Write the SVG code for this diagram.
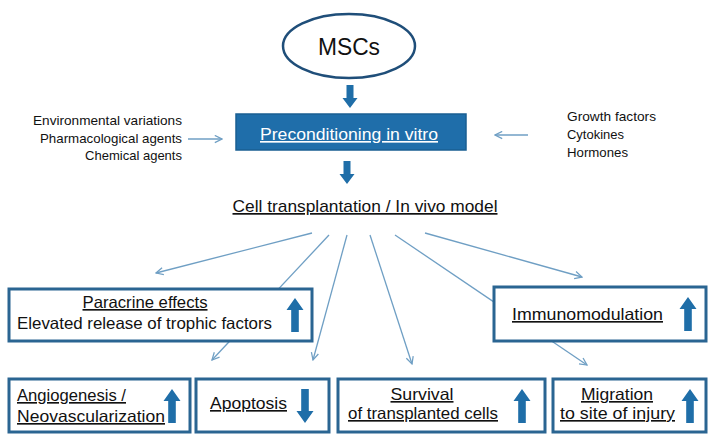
<svg xmlns="http://www.w3.org/2000/svg" width="719" height="444" viewBox="0 0 719 444">
<defs>
<style>
text{font-family:"Liberation Sans",Arial,sans-serif;fill:#111}
.u{text-decoration:underline}
.box{fill:#fff;stroke:#2a6592;stroke-width:3}
.ln{stroke:#6f9fc4;stroke-width:1.3;fill:none;marker-end:url(#ah)}
.blk{fill:#1f6ea8}
.s13{font-size:13.5px}
.s15{font-size:16.5px}
</style>
<marker id="ah" viewBox="0 0 10 10" refX="9" refY="5" markerWidth="9" markerHeight="9" markerUnits="userSpaceOnUse" orient="auto">
<polyline points="1,1 9,5 1,9" fill="none" stroke="#6f9fc4" stroke-width="1.4"/>
</marker>
<path id="up" d="M0,0 L8.5,12 L3.8,12 L3.8,34 L-3.8,34 L-3.8,12 L-8.5,12 Z"/>
<path id="dn" d="M-3.5,0 L3.5,0 L3.5,13 L7.5,13 L0,23 L-7.5,13 L-3.5,13 Z"/>
</defs>
<rect width="719" height="444" fill="#fff"/>

<g id="connectors">
<line class="ln" x1="188" y1="139" x2="222" y2="139"/>
<line class="ln" x1="528" y1="135" x2="495" y2="135"/>
<line class="ln" x1="312" y1="233" x2="156" y2="273"/>
<line class="ln" x1="329" y1="235" x2="212" y2="360"/>
<line class="ln" x1="347" y1="235" x2="313" y2="360"/>
<line class="ln" x1="370" y1="235" x2="412" y2="364"/>
<line class="ln" x1="395" y1="235" x2="587" y2="365"/>
<line class="ln" x1="425" y1="233" x2="582" y2="277"/>
<use href="#dn" class="blk" x="350" y="85"/>
<use href="#dn" class="blk" x="347" y="161"/>
</g>

<g id="msc">
<ellipse cx="349" cy="46" rx="66" ry="32" fill="#fff" stroke="#1f4e79" stroke-width="2.5"/>
<text x="349" y="55" font-size="24" text-anchor="middle" textLength="62" lengthAdjust="spacingAndGlyphs">MSCs</text>
</g>

<g id="precond">
<rect x="236" y="114" width="230" height="36" fill="#1f6eaa" stroke="#1a5f92" stroke-width="1.5"/>
<text x="349" y="140" class="s15 u" text-anchor="middle" style="fill:#fff" textLength="178" lengthAdjust="spacingAndGlyphs">Preconditioning in vitro</text>
</g>

<g id="left-factors" class="s13">
<text x="182" y="125" text-anchor="end" textLength="149" lengthAdjust="spacingAndGlyphs">Environmental variations</text>
<text x="182" y="143" text-anchor="end" textLength="142" lengthAdjust="spacingAndGlyphs">Pharmacological agents</text>
<text x="182" y="160" text-anchor="end" textLength="97" lengthAdjust="spacingAndGlyphs">Chemical agents</text>
</g>

<g id="right-factors" class="s13">
<text x="567" y="121" textLength="89" lengthAdjust="spacingAndGlyphs">Growth factors</text>
<text x="567" y="139" textLength="57" lengthAdjust="spacingAndGlyphs">Cytokines</text>
<text x="567" y="157" textLength="61" lengthAdjust="spacingAndGlyphs">Hormones</text>
</g>

<g id="transplant">
<text x="365" y="212" class="u" font-size="17" text-anchor="middle" textLength="265" lengthAdjust="spacingAndGlyphs">Cell transplantation / In vivo model</text>
</g>

<g id="paracrine">
<rect class="box" x="9" y="289" width="303" height="52"/>
<text x="145" y="308" class="s15 u" text-anchor="middle" textLength="125" lengthAdjust="spacingAndGlyphs">Paracrine effects</text>
<text x="17" y="329" class="s15" textLength="255" lengthAdjust="spacingAndGlyphs">Elevated release of trophic factors</text>
<use href="#up" class="blk" x="295" y="298"/>
</g>

<g id="immuno">
<rect class="box" x="494" y="287" width="212" height="54"/>
<text x="512" y="320" class="s15 u" textLength="151" lengthAdjust="spacingAndGlyphs">Immunomodulation</text>
<use href="#up" class="blk" x="688" y="297"/>
</g>

<g id="angio">
<rect class="box" x="9" y="379" width="181" height="53"/>
<text x="17" y="401" class="s15 u" textLength="109" lengthAdjust="spacingAndGlyphs">Angiogenesis /</text>
<text x="17" y="422" class="s15 u" textLength="148" lengthAdjust="spacingAndGlyphs">Neovascularization </text>
<use href="#up" class="blk" x="172" y="389"/>
</g>

<g id="apoptosis">
<rect class="box" x="196" y="379" width="133" height="53"/>
<text x="210" y="409" class="s15 u" textLength="77" lengthAdjust="spacingAndGlyphs">Apoptosis</text>
<g transform="translate(305,389)"><path class="blk" d="M0,34 L8.5,22 L3.8,22 L3.8,0 L-3.8,0 L-3.8,22 L-8.5,22 Z"/></g>
</g>

<g id="survival">
<rect class="box" x="338" y="379" width="207" height="53"/>
<text x="422" y="400" class="s15 u" text-anchor="middle" textLength="63" lengthAdjust="spacingAndGlyphs">Survival</text>
<text x="348" y="419" class="s15 u" textLength="150" lengthAdjust="spacingAndGlyphs">of transplanted cells</text>
<use href="#up" class="blk" x="522" y="389"/>
</g>

<g id="migration">
<rect class="box" x="553" y="379" width="153" height="53"/>
<text x="617" y="400" class="s15 u" text-anchor="middle" textLength="72" lengthAdjust="spacingAndGlyphs">Migration</text>
<text x="560" y="419" class="s15 u" textLength="115" lengthAdjust="spacingAndGlyphs">to site of injury</text>
<use href="#up" class="blk" x="690" y="389"/>
</g>
</svg>
